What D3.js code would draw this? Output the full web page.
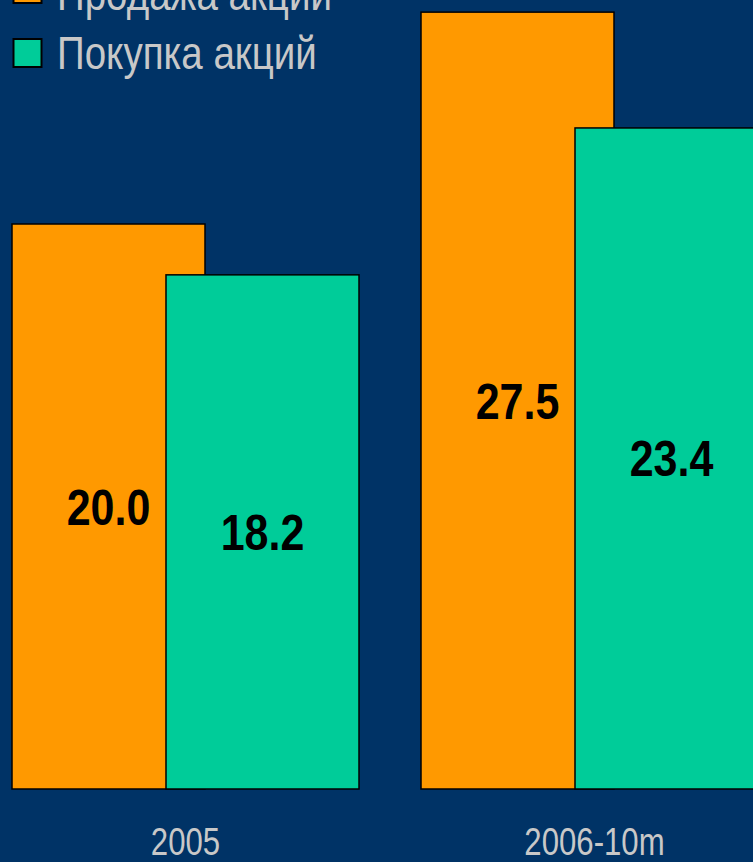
<!DOCTYPE html>
<html>
<head>
<meta charset="utf-8">
<script src="https://cdn.jsdelivr.net/npm/d3@7"></script>
<style>
  html, body { margin: 0; padding: 0; background: #003366; overflow: hidden; }
  svg { display: block; }
</style>
</head>
<body>
<div id="chart"></div>
<script>
// Data
const categories = ['2005', '2006-10m'];
const seriesNames = ['Продажа акций', 'Покупка акций'];
const seriesColors = ['#FF9900', '#00CC99'];
const sales = [20.0, 27.5];      // Продажа акций
const purchases = [18.2, 23.4];  // Покупка акций

const width = 753, height = 862;
const baseline = 789;
const font = '"Liberation Sans", Arial, sans-serif';
const squeeze = 0.82;

const svg = d3.select('#chart').append('svg')
    .attr('width', width)
    .attr('height', height);

svg.append('rect')
    .attr('width', width)
    .attr('height', height)
    .attr('fill', '#003366');

// Scales
const x0 = d3.scaleBand()
    .domain(categories)
    .range([12, 768])
    .paddingInner(0.1516)
    .paddingOuter(0);

const x1 = d3.scalePoint()
    .domain(seriesNames)
    .range([0, 154]);

const barWidth = 193;

const y = d3.scaleLinear()
    .domain([0, 30])
    .range([baseline, baseline - 847.5]);

const rows = categories.map((c, i) => ({
    category: c,
    values: [sales[i], purchases[i]]
}));

// Bars (series order: orange first, teal drawn over it)
seriesNames.forEach((s, si) => {
    svg.selectAll('.bar-' + si)
        .data(rows)
        .enter()
        .append('rect')
        .attr('class', 'bar-' + si)
        .attr('x', d => x0(d.category) + x1(s))
        .attr('y', d => y(d.values[si]))
        .attr('width', barWidth)
        .attr('height', d => y(0) - y(d.values[si]))
        .attr('fill', seriesColors[si])
        .attr('stroke', '#000')
        .attr('stroke-width', 1.5);
});

// Value labels, centred in each bar
seriesNames.forEach((s, si) => {
    svg.selectAll('.lbl-' + si)
        .data(rows)
        .enter()
        .append('text')
        .attr('transform', d => {
            const cx = x0(d.category) + x1(s) + barWidth / 2;
            const cy = (y(d.values[si]) + y(0)) / 2 + 18;
            return `translate(${cx},${cy}) scale(0.86,1)`;
        })
        .attr('text-anchor', 'middle')
        .style('font-family', font)
        .style('font-weight', 'bold')
        .style('font-size', '50px')
        .attr('fill', '#000')
        .text(d => d.values[si].toFixed(1));
});

// Category labels
svg.selectAll('.cat')
    .data(categories)
    .enter()
    .append('text')
    .attr('class', 'cat')
    .attr('transform', d => `translate(${x0(d) + x0.bandwidth() / 2},855) scale(${squeeze},1)`)
    .attr('text-anchor', 'middle')
    .style('font-family', font)
    .style('font-size', '38px')
    .attr('fill', '#C8C8C8')
    .text(d => d);

// Legend (top-left, first row partly off the top edge as in the original)
const legendRows = [
    { square: -25, baseline: 10 },
    { square: 39, baseline: 69 }
];

seriesNames.forEach((s, i) => {
    const g = svg.append('g');
    g.append('rect')
        .attr('x', 13.5)
        .attr('y', legendRows[i].square)
        .attr('width', 28)
        .attr('height', 28)
        .attr('fill', seriesColors[i])
        .attr('stroke', '#000')
        .attr('stroke-width', 2);
    g.append('text')
        .attr('transform', `translate(57,${legendRows[i].baseline}) scale(${squeeze},1)`)
        .style('font-family', font)
        .style('font-size', '47px')
        .attr('fill', '#C8C8C8')
        .text(s);
});
</script>
</body>
</html>
